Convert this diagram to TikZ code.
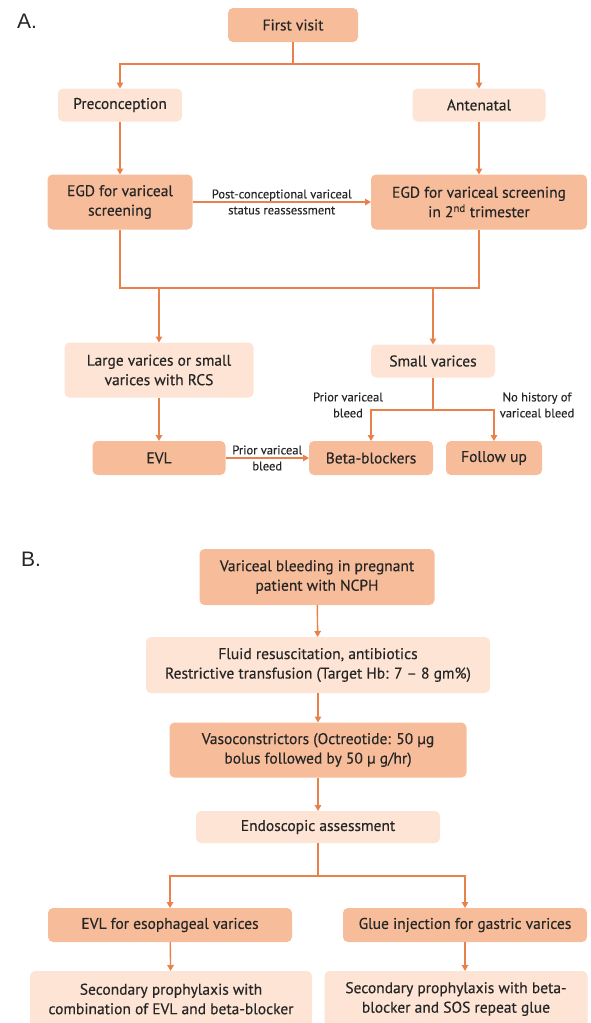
\documentclass[tikz,border=0pt]{standalone}
\usepackage{fontspec}
\setmainfont{PT Sans}[FakeBold=0.35]
\newfontfamily\panelfont{Liberation Sans}
\usetikzlibrary{arrows.meta}
\definecolor{boxdark}{HTML}{F7BD9A}
\definecolor{boxlight}{HTML}{FDE4D4}
\definecolor{linkcol}{HTML}{E8824A}
\definecolor{txtcol}{HTML}{262626}

\begin{document}
\begin{tikzpicture}[x=1pt,y=-1pt,
	dark/.style={fill=boxdark,rounded corners=5pt,align=center,inner sep=0,outer sep=0,text=txtcol,font=\fontsize{15.5}{19.5}\selectfont},
	light/.style={dark,fill=boxlight},
	lbl/.style={align=center,inner sep=0,text=txtcol,font=\fontsize{12.5}{16}\selectfont},
	link/.style={draw=linkcol,line width=1.4pt},
	arr/.style={link,-{Triangle[length=6pt,width=6.5pt]}},
	panel/.style={text=txtcol,font=\panelfont\fontsize{21}{23}\selectfont}]
	\useasboundingbox (0,0) rectangle (590,1023);
	\node[panel] (pA) at (27,21) {A.};
	\node[dark,minimum width=130,minimum height=34] (first) at (293,25) {First visit};
	\node[light,minimum width=124,minimum height=33] (precon) at (120,105) {Preconception};
	\node[light,minimum width=133,minimum height=33] (antenatal) at (479,105) {Antenatal};
	\node[dark,minimum width=145,minimum height=55] (egdL) at (120,202) {EGD for variceal\\screening};
	\node[dark,minimum width=216,minimum height=55] (egdR) at (479,202) {EGD for variceal screening\\in 2\textsuperscript{nd} trimester};
	\node[light,minimum width=189,minimum height=55] (large) at (159,370) {Large varices or small\\varices with RCS};
	\node[light,minimum width=124,minimum height=33] (small) at (433,361) {Small varices};
	\node[dark,minimum width=133,minimum height=34] (evl) at (159,458) {EVL};
	\node[dark,minimum width=124,minimum height=34] (beta) at (371,458) {Beta-blockers};
	\node[dark,minimum width=96,minimum height=34] (follow) at (494,458) {Follow up};
	\node[lbl] (lPrior) at (348,405) {Prior variceal\\bleed};
	\node[lbl] (lNoHist) at (537,405) {No history of\\variceal bleed};
	\coordinate (jA) at (293,64);
	\coordinate (jM) at (300,288);
	\coordinate (jL) at (159,288);
	\coordinate (jR) at (433,288);
	\coordinate (jS) at (433,410);
	\draw[link] (first) -- (jA);
	\draw[arr] (jA) -| (precon);
	\draw[arr] (jA) -| (antenatal);
	\draw[arr] (precon) -- (egdL);
	\draw[arr] (antenatal) -- (egdR);
	\draw[arr] (egdL) -- node[lbl] {Post-conceptional variceal\\status reassessment} (egdR);
	\draw[link] (egdL) |- (jM) -| (egdR);
	\draw[arr] (jL) -- (large);
	\draw[arr] (jR) -- (small);
	\draw[arr] (large) -- (evl);
	\draw[link] (small) -- (jS);
	\draw[arr] (jS) -| (beta);
	\draw[arr] (jS) -| (follow);
	\draw[arr] (evl) -- node[lbl] {Prior variceal\\bleed} (beta);

	\node[panel] (pB) at (31,559) {B.};
	\node[dark,minimum width=235,minimum height=56] (bleed) at (317,577) {Variceal bleeding in pregnant\\patient with NCPH};
	\node[light,minimum width=344,minimum height=56] (fluid) at (318,665) {Fluid resuscitation, antibiotics\\Restrictive transfusion (Target Hb: 7 -- 8 gm\%)};
	\node[dark,minimum width=297,minimum height=55] (vaso) at (318,750) {Vasoconstrictors (Octreotide: 50 µg\\bolus followed by 50 µ g/hr)};
	\node[light,minimum width=244,minimum height=32] (endo) at (318,827) {Endoscopic assessment};
	\node[dark,minimum width=244,minimum height=34] (evlEso) at (170,925) {EVL for esophageal varices};
	\node[dark,minimum width=244,minimum height=34] (glue) at (465,925) {Glue injection for gastric varices};
	\node[light,minimum width=282,minimum height=56] (secL) at (171,999) {Secondary prophylaxis with\\combination of EVL and beta-blocker};
	\node[light,minimum width=263,minimum height=56] (secR) at (456,999) {Secondary prophylaxis with beta-\\blocker and SOS repeat glue};
	\coordinate (jE) at (318,876);
	\draw[arr] (bleed) -- (fluid);
	\draw[arr] (fluid) -- (vaso);
	\draw[arr] (vaso) -- (endo);
	\draw[link] (endo) -- (jE);
	\draw[arr] (jE) -| (evlEso);
	\draw[arr] (jE) -| (glue);
	\draw[arr] (evlEso) -- (secL);
	\draw[arr] (glue.south) -- (glue.south |- secR.north);
\end{tikzpicture}
\end{document}
